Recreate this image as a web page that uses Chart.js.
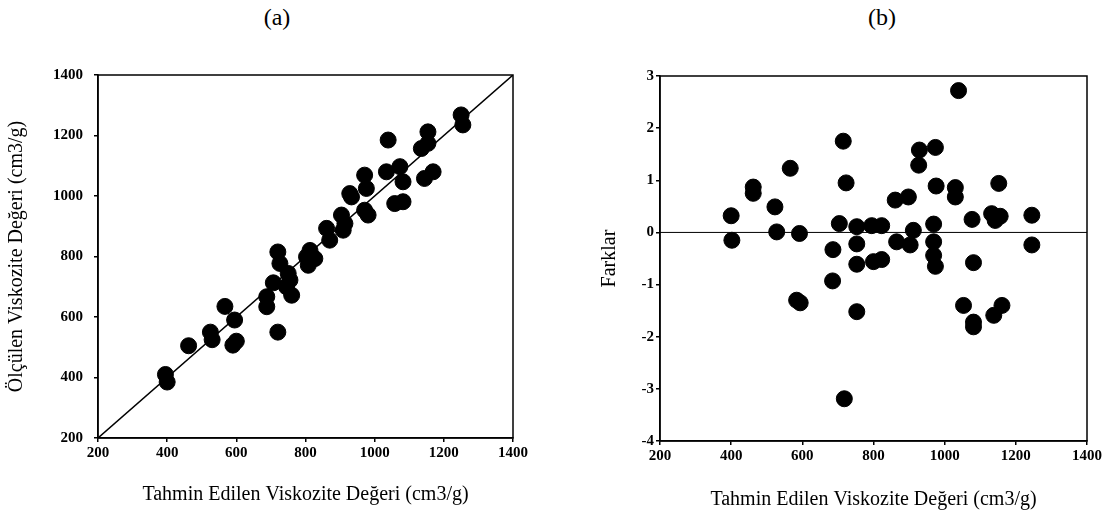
<!DOCTYPE html>
<html>
<head>
<meta charset="utf-8">
<script src="https://cdn.jsdelivr.net/npm/chart.js@4/dist/chart.umd.min.js"></script>
<style>
  body { margin: 0; background: #fff; width: 1117px; height: 525px; position: relative; overflow: hidden; }
  .caja { position: absolute; top: 0; height: 525px; }
  .etiqueta { position: absolute; top: 4px; font: 24px "Liberation Serif", serif; color: #000; transform: translateX(-50%); }
</style>
</head>
<body>
<div class="etiqueta" style="left:277px">(a)</div>
<div class="etiqueta" style="left:882px">(b)</div>
<div class="caja" style="left:0; width:530px"><canvas id="graficoA"></canvas></div>
<div class="caja" style="left:540px; width:577px"><canvas id="graficoB"></canvas></div>
<script>
// (a) tahmin edilen vs olculen
let tahminA = [395,400,462,525,530,567,595,590,600,720,720,726,707,688,688,750,755,760,745,803,813,808,827,861,870,904,909,914,928,933,971,976,971,981,1039,1034,1073,1082,1058,1082,1135,1154,1154,1144,1169,1250,1255]
let olculenA = [410,385,505,550,525,635,590,507,520,550,815,777,713,667,634,744,722,672,700,799,820,771,793,893,854,937,887,909,1008,997,1069,1025,953,937,1185,1080,1097,1047,975,981,1157,1212,1174,1058,1080,1268,1235]

// (b) farklar
let tahminB = [400,402,462,462,523,528,566,592,584,594,704,715,723,686,685,718,753,753,753,753,795,823,800,823,861,865,898,912,903,929,927,969,969,969,974,974,976,1030,1030,1039,1053,1077,1081,1081,1081,1132,1142,1156,1152,1138,1161,1245,1245]
let farklar = [0.32,-0.15,0.87,0.75,0.49,0.01,1.23,-0.02,-1.30,-1.35,0.17,1.75,0.95,-0.33,-0.93,-3.19,0.11,-0.22,-0.61,-1.52,0.13,0.13,-0.56,-0.52,0.62,-0.18,0.68,0.04,-0.24,1.58,1.29,0.16,-0.18,-0.44,-0.65,1.63,0.89,0.86,0.68,2.72,-1.40,0.25,-0.58,-1.72,-1.81,0.36,0.23,0.31,0.94,-1.59,-1.40,0.33,-0.24]

let ejeXMin = 200, ejeXMax = 1400, pasoX = 200
let ejeYMinA = 200, ejeYMaxA = 1400, pasoYA = 200
let ejeYMinB = -4, ejeYMaxB = 3, pasoYB = 1

const tituloX = "Tahmin Edilen Viskozite Değeri (cm3/g)"
const tituloYA = "Ölçülen Viskozite Değeri (cm3/g)"
const tituloYB = "Farklar"

const fuente = "'Liberation Serif', 'Times New Roman', serif"
Chart.defaults.font.family = fuente
Chart.defaults.color = '#000'

// marco alrededor del area del grafico
const marco = {
    id: 'marco',
    beforeDatasetsDraw(chart) {
        const {ctx, chartArea: a} = chart
        ctx.save()
        ctx.strokeStyle = '#000'
        ctx.lineWidth = 1.5
        ctx.strokeRect(a.left, a.top, a.right - a.left, a.bottom - a.top)
        ctx.restore()
    }
}

function ejes(yMin, yMax, yPaso, yTitulo, anchoY, altoX, padY, padTituloY, padTituloX) {
    return {
        x: {
            type: 'linear', min: ejeXMin, max: ejeXMax,
            ticks: { stepSize: pasoX, padding: 2, font: { size: 15, weight: 'bold' }, callback: v => String(v) },
            grid: { drawOnChartArea: false, color: '#000', lineWidth: 1.5, tickLength: 4 },
            border: { color: '#000', width: 1.5 },
            title: { display: true, text: tituloX, font: { size: 20 }, padding: { top: 4, bottom: padTituloX } },
            afterFit: s => { s.height = altoX }
        },
        y: {
            type: 'linear', min: yMin, max: yMax,
            ticks: { stepSize: yPaso, padding: padY, font: { size: 15, weight: 'bold' }, callback: v => String(v) },
            grid: { drawOnChartArea: false, color: '#000', lineWidth: 1.5, tickLength: 4 },
            border: { color: '#000', width: 1.5 },
            title: { display: true, text: yTitulo, font: { size: 20 }, padding: { top: padTituloY, bottom: 4 } },
            afterFit: s => { s.width = anchoY }
        }
    }
}

const puntos = (xs, ys) => xs.map((x, i) => ({ x: x, y: ys[i] }))

new Chart(document.getElementById("graficoA"), {
    type: 'scatter',
    data: {
        datasets: [{
            data: puntos(tahminA, olculenA),
            backgroundColor: '#000', borderColor: '#000',
            pointRadius: 8, pointHoverRadius: 8
        }, {
            type: 'line',
            data: [{ x: ejeXMin, y: ejeYMinA }, { x: ejeXMax, y: ejeYMaxA }],
            borderColor: '#000', borderWidth: 1.5, pointRadius: 0
        }]
    },
    options: {
        responsive: true, maintainAspectRatio: false, animation: false,
        layout: { padding: { top: 75, right: 17, bottom: 0, left: 0 } },
        plugins: { legend: { display: false }, tooltip: { enabled: false } },
        scales: ejes(ejeYMinA, ejeYMaxA, pasoYA, tituloYA, 98, 87, 11, 5, 18)
    },
    plugins: [marco]
})

new Chart(document.getElementById("graficoB"), {
    type: 'scatter',
    data: {
        datasets: [{
            data: puntos(tahminB, farklar),
            backgroundColor: '#000', borderColor: '#000',
            pointRadius: 8, pointHoverRadius: 8
        }, {
            type: 'line',
            data: [{ x: ejeXMin, y: 0 }, { x: ejeXMax, y: 0 }],
            borderColor: '#000', borderWidth: 1, pointRadius: 0
        }]
    },
    options: {
        responsive: true, maintainAspectRatio: false, animation: false,
        layout: { padding: { top: 76, right: 30, bottom: 0, left: 0 } },
        plugins: { legend: { display: false }, tooltip: { enabled: false } },
        scales: ejes(ejeYMinB, ejeYMaxB, pasoYB, tituloYB, 120, 84, 2, 58, 13)
    },
    plugins: [marco]
})
</script>
</body>
</html>
